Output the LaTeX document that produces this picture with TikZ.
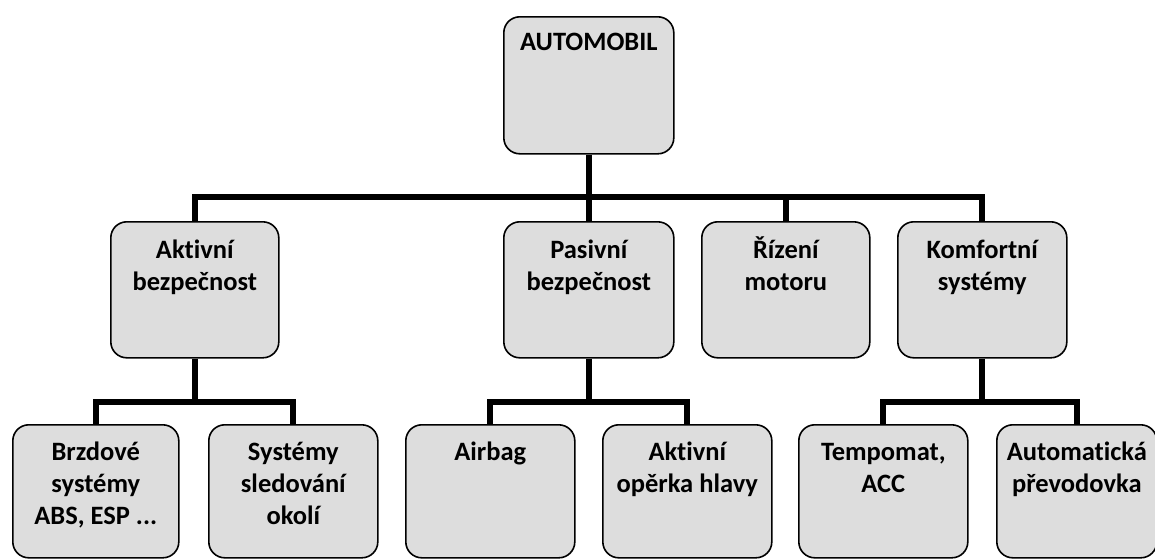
\documentclass[tikz,border=0pt]{standalone}
\usepackage{fontspec}
\setmainfont{Carlito}[Ligatures={NoCommon}]
\definecolor{boxfill}{HTML}{DDDDDD}
\newcommand\mylines[1]{\begin{tabular}[t]{@{}c@{}}#1\end{tabular}}
\begin{document}
\begin{tikzpicture}[x=1pt,y=-1pt,
  box/.style={draw=black, line width=1.6pt, fill=boxfill, rounded corners=16pt,
    anchor=north west, inner sep=0pt, minimum width=169pt},
  lvl1/.style={box, minimum height=137pt},
  lvl2/.style={box, minimum height=136pt},
  lvl3/.style={box, minimum height=133pt},
  txt/.style={anchor=base, inner sep=0pt, font=\fontsize{26.5}{32}\selectfont\bfseries},
  conn/.style={draw=black, line width=6pt, line join=miter, line cap=butt}]
\useasboundingbox (0,0) rectangle (1155,558);
\coordinate (bus1) at (0,197);
\coordinate (bus2) at (0,401.5);
% boxes
\node[lvl1, minimum width=170pt] (auto) at (503,16) {};
\node[lvl2, minimum width=168pt] (akt) at (110,221) {};
\node[lvl2, minimum width=170pt] (pas) at (503,221) {};
\node[lvl2, minimum width=168pt] (riz) at (701,221) {};
\node[lvl2] (kom) at (897,221) {};
\node[lvl3, minimum width=166pt] (brz) at (12,424) {};
\node[lvl3] (sys) at (208,424) {};
\node[lvl3] (air) at (405,424) {};
\node[lvl3] (ope) at (602,424) {};
\node[lvl3] (tem) at (798,424) {};
\node[lvl3, minimum width=160pt] (aut) at (996,424) {};
% connectors
\path[conn] (akt.north) |- (kom.north |- bus1) -- (kom.north);
\path[conn] (auto.south) -- (auto.south |- bus1);
\path[conn] (pas.north) -- (pas.north |- bus1);
\path[conn] (riz.north) -- (riz.north |- bus1);
\path[conn] (brz.north) |- (sys.north |- bus2) -- (sys.north);
\path[conn] (akt.south) -- (akt.south |- bus2);
\path[conn] (air.north) |- (ope.north |- bus2) -- (ope.north);
\path[conn] (pas.south) -- (pas.south |- bus2);
\path[conn] (tem.north) |- (aut.north |- bus2) -- (aut.north);
\path[conn] (kom.south) -- (kom.south |- bus2);
% texts
\node[txt] (autot) at ([yshift=-34pt]auto.north) {AUTOMOBIL};
\node[txt] (aktt) at ([yshift=-37pt]akt.north) {\mylines{Aktivní\\bezpečnost}};
\node[txt] (past) at ([yshift=-37pt]pas.north) {\mylines{Pasivní\\bezpečnost}};
\node[txt] (rizt) at ([yshift=-37pt]riz.north) {\mylines{Řízení\\motoru}};
\node[txt] (komt) at ([yshift=-37pt]kom.north) {\mylines{Komfortní\\systémy}};
\node[txt] (brzt) at ([yshift=-36pt]brz.north) {\mylines{Brzdové\\systémy\\ABS, ESP ...}};
\node[txt] (syst) at ([yshift=-36pt]sys.north) {\mylines{Systémy\\sledování\\okolí}};
\node[txt] (airt) at ([yshift=-36pt]air.north) {Airbag};
\node[txt] (opet) at ([yshift=-36pt]ope.north) {\mylines{Aktivní\\opěrka hlavy}};
\node[txt] (temt) at ([yshift=-36pt]tem.north) {\mylines{Tempomat,\\ACC}};
\node[txt] (autt) at ([yshift=-36pt]aut.north) {\mylines{Automatická\\převodovka}};
\end{tikzpicture}
\end{document}
